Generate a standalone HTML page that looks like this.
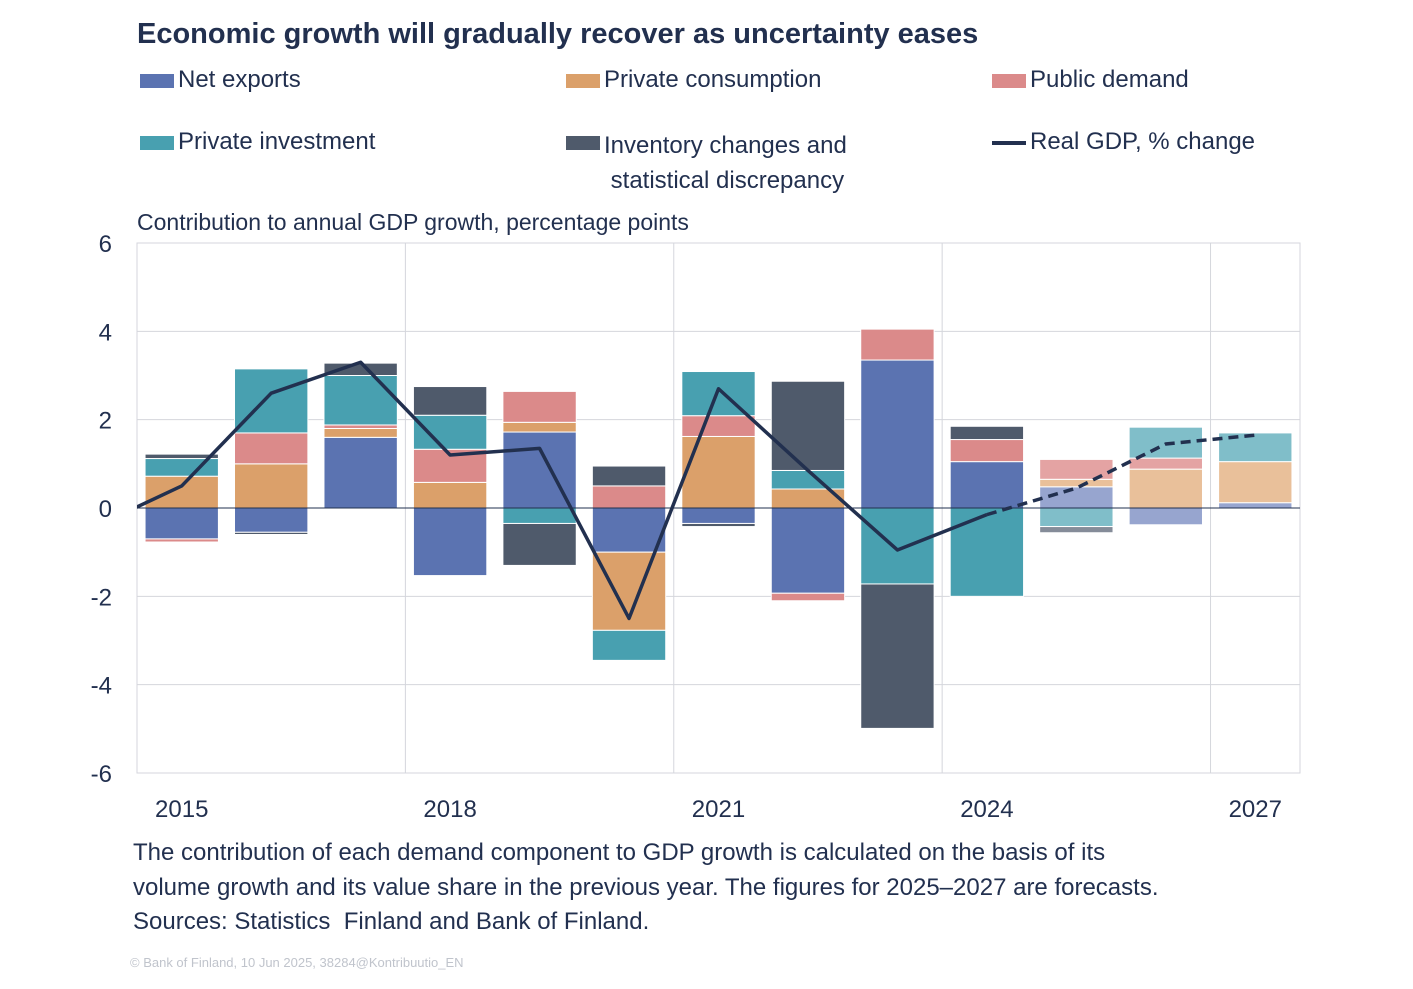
<!DOCTYPE html>
<html><head><meta charset="utf-8"><style>
body{margin:0;background:#fff;font-family:"Liberation Sans",sans-serif;color:#22304f}
#wrap{position:relative;width:1413px;height:989px;overflow:hidden}
.t{position:absolute;white-space:nowrap}
.sw{position:absolute;width:34px;height:14px}
</style></head><body>
<div id="wrap">
<div class="t" style="left:137px;top:18px;font-size:29px;font-weight:bold">Economic growth will gradually recover as uncertainty eases</div>
<div>
<div class="sw" style="left:140px;top:74px;background:#5b73b1"></div><div class="t" style="left:178px;top:66px;font-size:24px">Net exports</div>
<div class="sw" style="left:566px;top:74px;background:#dba06a"></div><div class="t" style="left:604px;top:66px;font-size:24px">Private consumption</div>
<div class="sw" style="left:992px;top:74px;background:#db8a8a"></div><div class="t" style="left:1030px;top:66px;font-size:24px">Public demand</div>
<div class="sw" style="left:140px;top:136px;background:#48a0b0"></div><div class="t" style="left:178px;top:128px;font-size:24px">Private investment</div>
<div class="sw" style="left:566px;top:136px;background:#4f5a6b"></div><div class="t" style="left:604px;top:128px;font-size:24px;line-height:35px;white-space:normal;width:300px">Inventory changes and<br>&nbsp;statistical discrepancy</div>
<div class="sw" style="left:992px;top:141px;height:4px;background:#22304f"></div><div class="t" style="left:1030px;top:128px;font-size:24px">Real GDP, % change</div>
</div>
<div class="t" style="left:137px;top:209px;font-size:23px">Contribution to annual GDP growth, percentage points</div>
<svg id="chart" width="1413" height="989" style="position:absolute;left:0;top:0"></svg>
<div class="t" style="left:133px;top:836px;font-size:24px;line-height:34.5px">The contribution of each demand component to GDP growth is calculated on the basis of its<br>volume growth and its value share in the previous year. The figures for 2025–2027 are forecasts.<br>Sources: Statistics&nbsp; Finland and Bank of Finland.</div>
<div class="t" style="left:130px;top:955px;font-size:13px;color:#c0c4cc">© Bank of Finland, 10 Jun 2025, 38284@Kontribuutio_EN</div>
</div>
<script>
const years=[2015,2016,2017,2018,2019,2020,2021,2022,2023,2024,2025,2026,2027];
const netExports=[-0.7,-0.55,1.6,-1.53,1.72,-1.0,-0.35,-1.93,3.35,1.05,0.48,-0.38,0.12];
const privCons=[0.72,1.0,0.2,0.58,0.22,-1.77,1.62,0.43,0,0,0.17,0.88,0.93];
const publicDemand=[-0.07,0.7,0.08,0.75,0.7,0.5,0.47,-0.17,0.7,0.5,0.45,0.25,0];
const privInv=[0.4,1.45,1.12,0.77,-0.35,-0.68,1.0,0.42,-1.72,-2.0,-0.42,0.7,0.65];
const inventory=[0.1,-0.05,0.28,0.65,-0.95,0.45,-0.07,2.02,-3.27,0.3,-0.14,0,0];
const gdpYears=[2014,2015,2016,2017,2018,2019,2020,2021,2022,2023,2024];
const gdpActual=[-0.45,0.5,2.6,3.3,1.2,1.35,-2.5,2.7,0.85,-0.95,-0.15];
const gdpForecastYears=[2024,2025,2026,2027];
const gdpForecast=[-0.15,0.45,1.45,1.65];
const yTicks=[6,4,2,0,-2,-4,-6];
const xTickYears=[2015,2018,2021,2024,2027];
const firstForecast=2025;

const svg=document.getElementById('chart');const NS='http://www.w3.org/2000/svg';
const L=137,R=1300,T=243,B=773,yMin=-6,yMax=6;
const bw=(R-L)/years.length;
const x=yr=>L+(yr-years[0]+0.5)*bw;
const y=v=>B-(v-yMin)/(yMax-yMin)*(B-T);
function el(tag,a){const e=document.createElementNS(NS,tag);for(const k in a)e.setAttribute(k,a[k]);svg.appendChild(e);return e;}
const cp=el('clipPath',{id:'pc'});const cr=document.createElementNS(NS,'rect');cr.setAttribute('x',L);cr.setAttribute('y',T);cr.setAttribute('width',R-L);cr.setAttribute('height',B-T);cp.appendChild(cr);
yTicks.forEach(v=>{const g=el('line',{x1:L,x2:R,y1:y(v),y2:y(v),stroke:'#d4d6dc','stroke-width':1});


const t=el('text',{x:112,y:y(v)+9,'text-anchor':'end','font-size':24,fill:'#22304f'});t.textContent=v;

});
for(let i=1;i<years.length;i++){if((years[i]-years[0])%3===0){const g=el('line',{x1:L+i*bw,x2:L+i*bw,y1:T,y2:B,stroke:'#d4d6dc','stroke-width':1});

}}
const frame=el('rect',{x:L,y:T,width:R-L,height:B-T,fill:'none',stroke:'#d4d6dc'});


xTickYears.forEach(yr=>{const t=el('text',{x:x(yr),y:817,'text-anchor':'middle','font-size':24,fill:'#22304f'});t.textContent=yr;

});
const series=[['net-exports',netExports,'#5b73b1','#97a5cf'],['private-consumption',privCons,'#dba06a','#e9c09a'],['public-demand',publicDemand,'#db8a8a','#e4a3a3'],['private-investment',privInv,'#48a0b0','#80bec9'],['inventory',inventory,'#4f5a6b','#858c99']];
years.forEach((yr,i)=>{let pos=0,neg=0;const fc=yr>=firstForecast;
series.forEach(([n,arr,c,lc])=>{const v=arr[i];if(!v)return;let y0,y1;
if(v>0){y0=pos;y1=pos+v;pos=y1;}else{y0=neg;y1=neg+v;neg=y1;}
const r=el('rect',{x:x(yr)-bw*0.41,width:bw*0.82,y:Math.min(y(y0),y(y1)),height:Math.abs(y(y1)-y(y0)),fill:fc?lc:c,stroke:'#fff','stroke-width':1});

});});
const z=el('line',{x1:L,x2:R,y1:y(0),y2:y(0),stroke:'#22304f','stroke-width':1});


const p1=el('polyline',{points:gdpYears.map((yr,i)=>x(yr)+','+y(gdpActual[i])).join(' '),fill:'none',stroke:'#22304f','stroke-width':3.5,'clip-path':'url(#pc)','stroke-linejoin':'round'});


const p2=el('polyline',{points:gdpForecastYears.map((yr,i)=>x(yr)+','+y(gdpForecast[i])).join(' '),fill:'none',stroke:'#22304f','stroke-width':3.5,'stroke-dasharray':'10 6'});


</script>
</body></html>
